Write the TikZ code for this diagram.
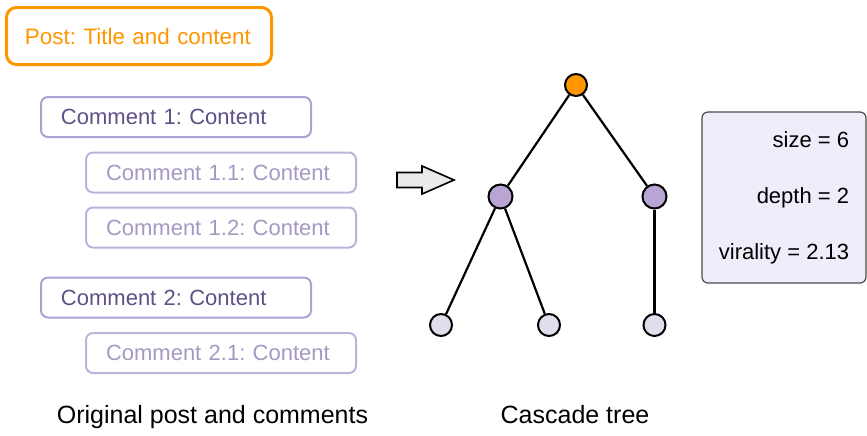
\documentclass[tikz,border=0pt]{standalone}
\usepackage{fontspec}
\setmainfont{Liberation Sans}
\usepackage{tikz}
\usetikzlibrary{positioning}
\frenchspacing
\definecolor{postorange}{RGB}{255,150,0}
\definecolor{cmtline}{RGB}{175,160,210}
\definecolor{cmttext}{RGB}{95,80,135}
\definecolor{replyline}{RGB}{190,178,220}
\definecolor{replytext}{RGB}{165,152,195}
\definecolor{midfill}{RGB}{185,165,212}
\definecolor{leaffill}{RGB}{226,221,236}
\definecolor{statsfill}{RGB}{238,238,250}
\definecolor{arrowfill}{RGB}{234,234,234}
\tikzset{
    post/.style={
    rectangle,rounded corners=5pt,draw=postorange,line width=1.5pt,text=postorange,
    text width=114pt,inner xsep=9.25pt,minimum height=28.5pt,align=left,
    font=\fontsize{11.2}{13.4}\selectfont
    },
    comment/.style={
    rectangle,rounded corners=3.5pt,draw=cmtline,line width=1pt,text=cmttext,
    text width=115pt,inner xsep=10pt,minimum height=20pt,align=left,
    font=\fontsize{11}{13.2}\selectfont
    },
    reply/.style={
    comment,draw=replyline,text=replytext
    },
    root/.style={
    circle,draw=black,line width=1pt,fill=postorange,minimum size=11pt,inner sep=0pt
    },
    inner/.style={
    circle,draw=black,line width=1pt,fill=midfill,minimum size=12pt,inner sep=0pt
    },
    leaf/.style={
    circle,draw=black,line width=1pt,fill=leaffill,minimum size=11pt,inner sep=0pt
    },
    treeedge/.style={
    draw=black,line width=1.1pt
    },
    stats/.style={
    rectangle,rounded corners=3pt,draw=black!70,line width=0.6pt,fill=statsfill,
    minimum width=82pt,minimum height=85.5pt,align=right,
    font=\fontsize{11}{28}\selectfont
    },
    caption/.style={
    anchor=base,inner sep=0pt,font=\fontsize{12.5}{15}\selectfont
    },
}
\begin{document}
\begin{tikzpicture}[x=0.5pt, y=-0.5pt, on grid]
   \useasboundingbox (0,0) rectangle (867,435);

   \node[post] (post) at (139,36) {Post: Title and content};
   \node[comment] (c1) at (176,117) {Comment 1: Content};
   \node[reply] (c11) [below right=27.75pt and 22.5pt of c1] {Comment 1.1: Content};
   \node[reply] (c12) [below=27.5pt of c11] {Comment 1.2: Content};
   \node[comment] (c2) [below left=35pt and 22.5pt of c12] {Comment 2: Content};
   \node[reply] (c21) [below right=27.75pt and 22.5pt of c2] {Comment 2.1: Content};

   \draw[line width=0.8pt,fill=arrowfill] (397,172.5) -- (422,172.5) -- (422,166)
      -- (454,180) -- (422,194) -- (422,187.5) -- (397,187.5) -- cycle;

   \node[root] (r) at (576,85) {};
   \node[inner] (a) [below left=55.75pt and 37.75pt of r] {};
   \node[inner] (b) [below right=55.75pt and 39.25pt of r] {};
   \node[leaf] (a1) [below left=64.25pt and 29.75pt of a] {};
   \node[leaf] (a2) [below right=64.25pt and 24.25pt of a] {};
   \node[leaf] (b1) [below=64.25pt of b] {};

   \path[treeedge]
             (r) edge (a)
                 edge (b)
             (a) edge (a1)
                 edge (a2)
             (b) edge (b1);

   \node[stats] (stats) at (784,197.5) {size = 6\\depth = 2\\virality = 2.13};

   \node[caption] (cap1) at (212.5,423) {Original post and comments};
   \node[caption] (cap2) at (575,423) {Cascade tree};
\end{tikzpicture}
\end{document}
